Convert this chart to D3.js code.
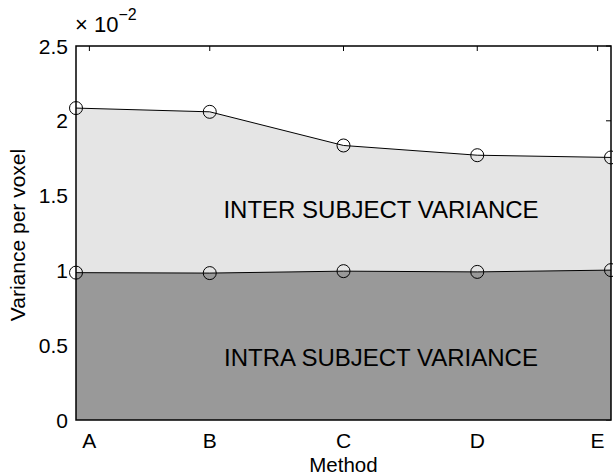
<!DOCTYPE html>
<html><head><meta charset="utf-8">
<script src="https://cdn.jsdelivr.net/npm/d3@7"></script>
<style>body{margin:0;background:#fff}svg{display:block}text{font-family:"Liberation Sans",Arial,sans-serif;fill:#000}</style>
</head><body>
<script>
const methods = ["A","B","C","D","E"];
const intraValues = [0.985, 0.982, 0.995, 0.990, 1.002];   // ×10^-2
const totalValues = [2.085, 2.060, 1.835, 1.770, 1.755];   // ×10^-2
const yTicks = [0, 0.5, 1, 1.5, 2, 2.5];
const yTickLabels = ["0","0.5","1","1.5","2","2.5"];
const xTickPos = [1.1, 2, 3, 4, 4.9];
const xTickLabels = ["A","B","C","D","E"];

const W = 613, H = 476;
const m = {l:76, r:2, t:46, b:56};
const svg = d3.select("body").append("svg").attr("width", W).attr("height", H);
const x = d3.scaleLinear().domain([1,5]).range([m.l, W-m.r]);
const y = d3.scaleLinear().domain([0,2.5]).range([H-m.b, m.t]);
const idx = methods.map((d,i)=>i+1);

// inward ticks (drawn under fills)
const tk = 5;
const g = svg.append("g");
g.selectAll(".tt").data(xTickPos).join("line").attr("x1",d=>x(d)).attr("x2",d=>x(d))
  .attr("y1",y(2.5)).attr("y2",y(2.5)+tk).attr("stroke","#000").attr("stroke-width",1);
g.selectAll(".rt").data(yTicks).join("line").attr("x1",x(5)).attr("x2",x(5)-tk)
  .attr("y1",d=>y(d)).attr("y2",d=>y(d)).attr("stroke","#000").attr("stroke-width",1);

const areaTotal = d3.area().x((d,i)=>x(idx[i])).y0(y(0)).y1(d=>y(d));
svg.append("path").datum(totalValues).attr("d", areaTotal).attr("fill","#e5e5e5");
svg.append("path").datum(intraValues).attr("d", areaTotal).attr("fill","#999999");

const line = d3.line().x((d,i)=>x(idx[i])).y(d=>y(d));
[totalValues, intraValues].forEach(vals=>{
  svg.append("path").datum(vals).attr("d", line).attr("fill","none").attr("stroke","#000").attr("stroke-width",1);
  svg.selectAll(null).data(vals).join("circle").attr("cx",(d,i)=>x(idx[i])).attr("cy",d=>y(d))
    .attr("r",6.5).attr("fill","none").attr("stroke","#000").attr("stroke-width",1);
});

// frame
svg.append("rect").attr("x",x(1)).attr("y",y(2.5)).attr("width",x(5)-x(1)).attr("height",y(0)-y(2.5))
  .attr("fill","none").attr("stroke","#000").attr("stroke-width",1.5);

// tick labels
svg.selectAll(".yl").data(yTicks).join("text").attr("x",m.l-8).attr("y",d=>y(d)).attr("dy","0.36em")
  .attr("text-anchor","end").attr("font-size",21).text((d,i)=>yTickLabels[i]);
svg.selectAll(".xl").data(xTickPos).join("text").attr("x",d=>x(d)).attr("y",448)
  .attr("text-anchor","middle").attr("font-size",21).text((d,i)=>xTickLabels[i]);

// exponent
const ex = svg.append("text").attr("x",75).attr("y",32).attr("font-size",22);
ex.append("tspan").text("× 10");
ex.append("tspan").attr("dy",-12).attr("font-size",16).text("−2");

// axis titles
svg.append("text").attr("x",x(3)).attr("y",472).attr("text-anchor","middle").attr("font-size",20.5).text("Method");
svg.append("text").attr("transform","translate(25,235) rotate(-90)").attr("text-anchor","middle")
  .attr("font-size",21).text("Variance per voxel");

// region labels
svg.append("text").attr("x",381).attr("y",218).attr("text-anchor","middle").attr("font-size",24).text("INTER SUBJECT VARIANCE");
svg.append("text").attr("x",381).attr("y",366).attr("text-anchor","middle").attr("font-size",24).text("INTRA SUBJECT VARIANCE");
</script>
</body></html>
